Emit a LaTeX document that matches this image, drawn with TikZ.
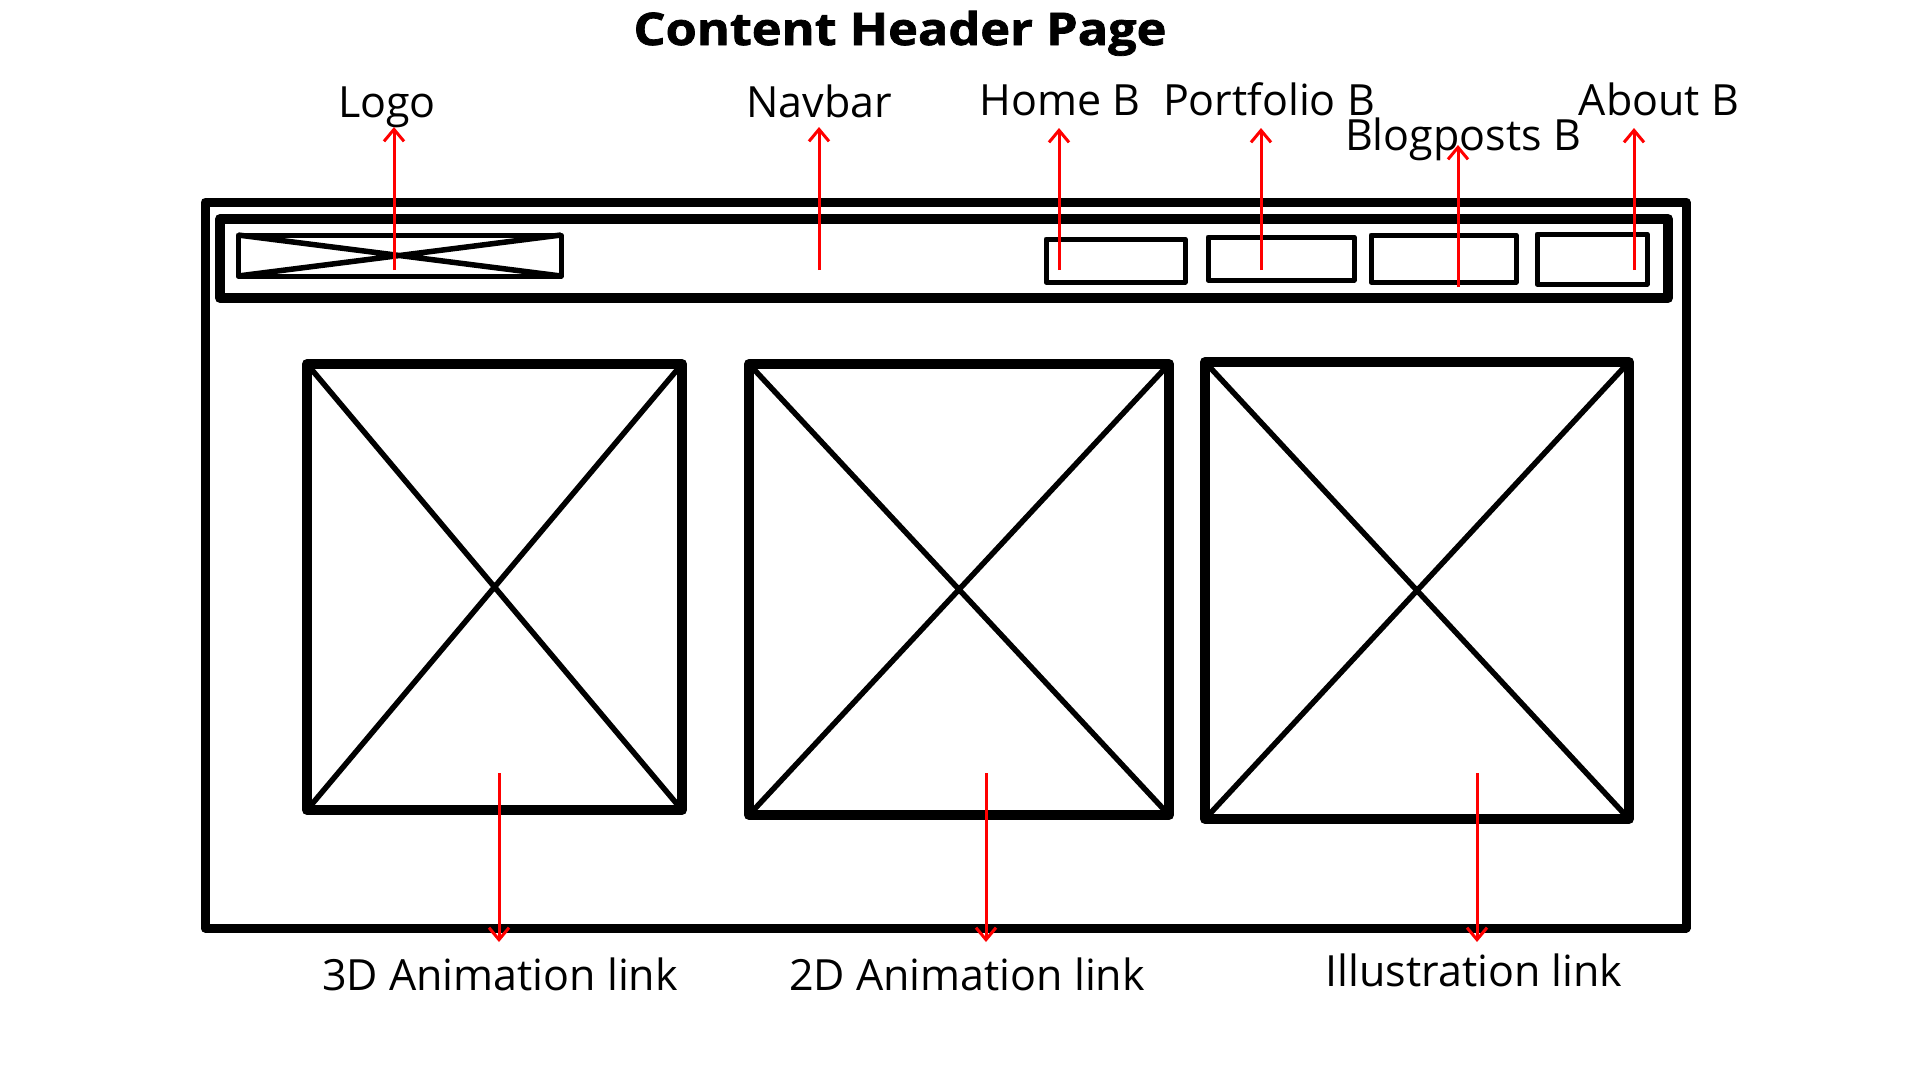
\documentclass[tikz,border=0pt]{standalone}
\usepackage{fontspec}
\setmainfont{Open Sans}
\newfontfamily\headfont{Open Sans}[FakeBold=1.6,FakeStretch=1.12]
\usetikzlibrary{arrows.meta}
\begin{document}
\begin{tikzpicture}[x=1pt,y=-1pt,
  frame/.style={draw=black,line width=9pt,line join=round},
  bar/.style={draw=black,line width=10pt,line join=round},
  imgbox/.style={draw=black,line width=10pt,line join=round},
  cross/.style={draw=black,line width=5.5pt},
  thinbox/.style={draw=black,line width=5pt,line join=round},
  label/.style={anchor=base,inner sep=0pt,font=\fontsize{43}{50}\selectfont},
  title/.style={anchor=base,inner sep=0pt,font=\headfont\fontsize{45}{54}\selectfont\bfseries},
  pointer/.style={draw=red,line width=3pt,-{Straight Barb[length=12pt,width=20pt,line width=3pt]}}
]
\useasboundingbox[fill=white] (0,0) rectangle (1920,1080);

% heading
\node[title] (head) at (900,45) {Content Header Page};

% page outline and navigation bar
\draw[frame] (205,202) rectangle (1686,928);
\draw[bar] (220,219) rectangle (1668,298);

% logo placeholder
\draw[thinbox] (238,235) rectangle (561,276);
\draw[cross] (238,235) -- (561,276) (238,276) -- (561,235);

% navigation buttons
\draw[thinbox] (1046,239) rectangle (1185,282);
\draw[thinbox] (1208,237) rectangle (1354,280);
\draw[thinbox] (1371,235) rectangle (1516,282);
\draw[thinbox] (1537,234) rectangle (1647,284);

% image placeholders
\draw[imgbox] (307,364) rectangle (682,810);
\draw[cross] (307,364) -- (682,810) (307,810) -- (682,364);
\draw[imgbox] (749,364) rectangle (1169,815);
\draw[cross] (749,364) -- (1169,815) (749,815) -- (1169,364);
\draw[imgbox] (1205,362) rectangle (1629,819);
\draw[cross] (1205,362) -- (1629,819) (1205,819) -- (1629,362);

% labels
\node[label] (logo) at (387,117) {Logo};
\node[label] (navbar) at (819,117) {Navbar};
\node[label] (home) at (1060,115) {Home B};
\node[label] (portfolio) at (1269,115) {Portfolio B};
\node[label] (blog) at (1463,150) {Blogposts B};
\node[label] (about) at (1659,115) {About B};
\node[label] (anim3d) at (500,990) {3D Animation link};
\node[label] (anim2d) at (967,990) {2D Animation link};
\node[label] (illu) at (1474,986) {Illustration link};

% pointer ends
\coordinate (logoA) at (394,270);   \coordinate (logoB) at (394,127);
\coordinate (navA) at (819,270);    \coordinate (navB) at (819,127);
\coordinate (homeA) at (1059,270);  \coordinate (homeB) at (1059,128);
\coordinate (portA) at (1261,270);  \coordinate (portB) at (1261,128);
\coordinate (blogA) at (1458,287);  \coordinate (blogB) at (1458,145);
\coordinate (aboutA) at (1634,270); \coordinate (aboutB) at (1634,128);
\coordinate (threeA) at (499,773);  \coordinate (threeB) at (499,942);
\coordinate (twoA) at (986,773);    \coordinate (twoB) at (986,942);
\coordinate (illA) at (1477,773);   \coordinate (illB) at (1477,942);

% pointers
\draw[pointer] (logoA) -- (logoB);
\draw[pointer] (navA) -- (navB);
\draw[pointer] (homeA) -- (homeB);
\draw[pointer] (portA) -- (portB);
\draw[pointer] (blogA) -- (blogB);
\draw[pointer] (aboutA) -- (aboutB);
\draw[pointer] (threeA) -- (threeB);
\draw[pointer] (twoA) -- (twoB);
\draw[pointer] (illA) -- (illB);
\end{tikzpicture}
\end{document}
